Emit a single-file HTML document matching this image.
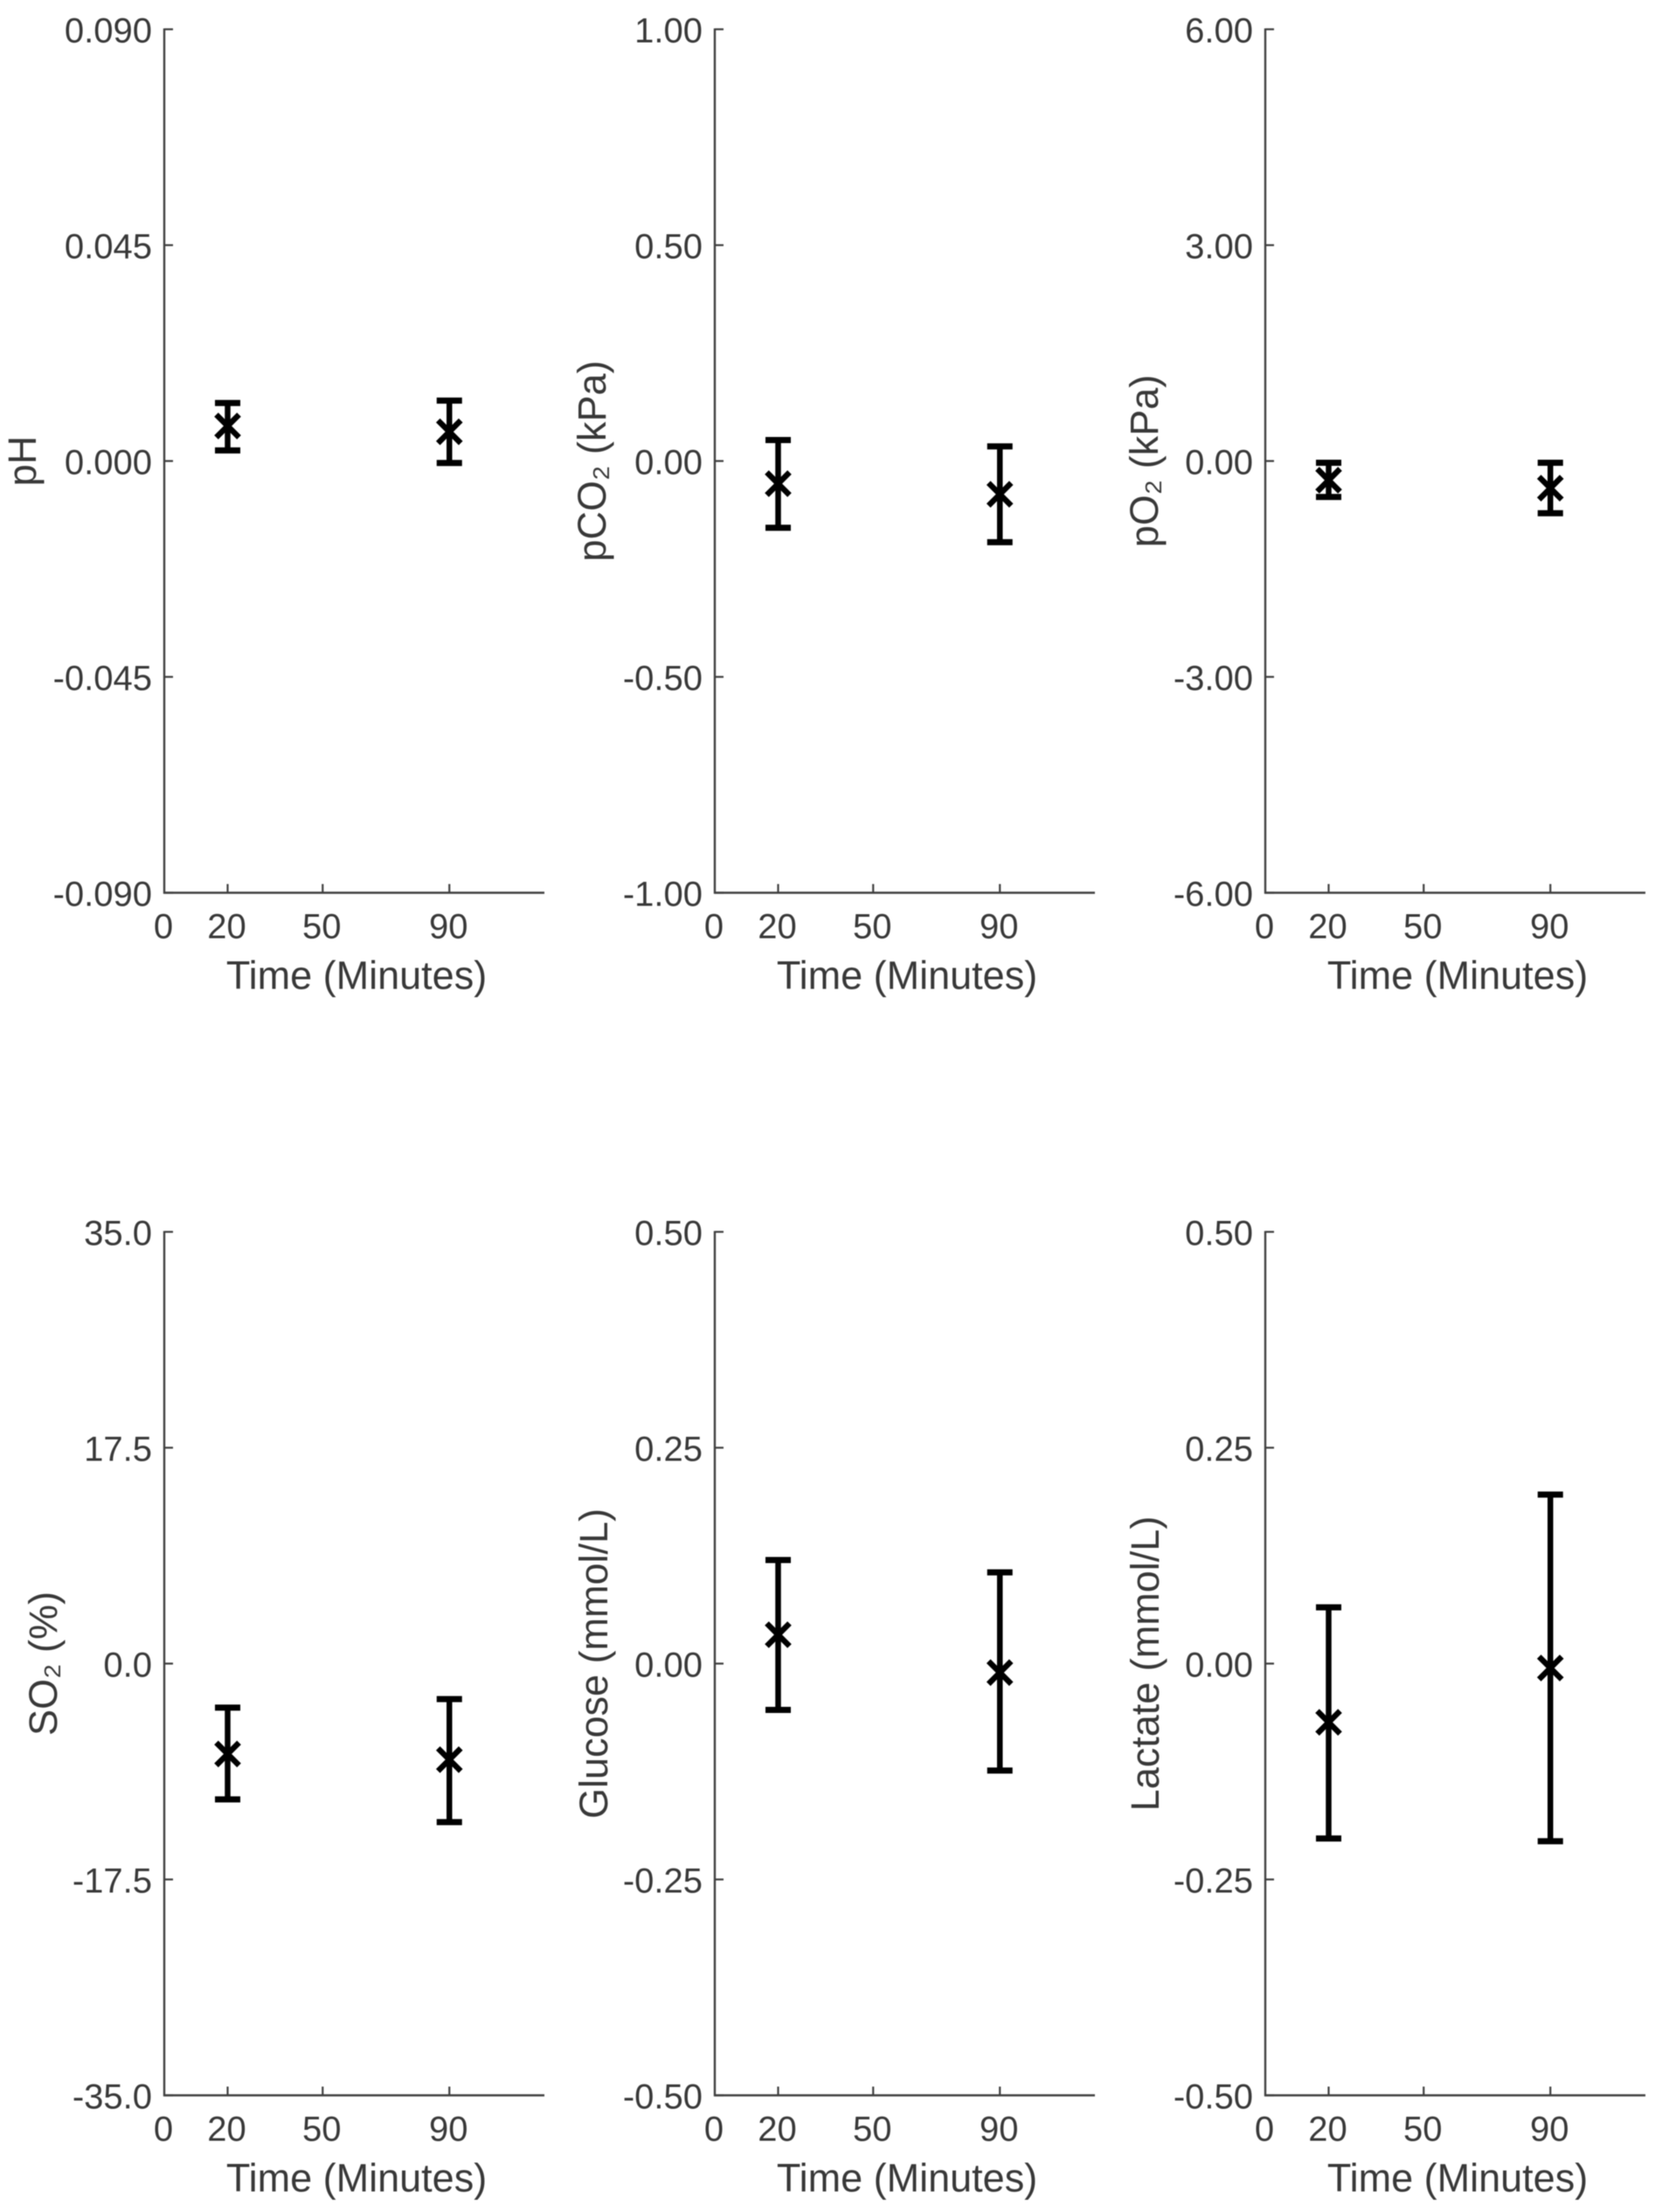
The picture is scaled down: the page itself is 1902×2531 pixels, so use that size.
<!DOCTYPE html>
<html lang="en">
<head>
<meta charset="utf-8">
<title>Blood gas changes over time</title>
<style>
  html, body { margin: 0; padding: 0; background: #fff; }
  #chart { display: block; width: 1902px; height: 2531px; filter: blur(0.6px); }
  text { font-family: "Liberation Sans", Arial, sans-serif; fill: #383838; }
</style>
</head>
<body>
<svg id="chart" xmlns="http://www.w3.org/2000/svg" width="1902" height="2531" viewBox="0 0 1902 2531"></svg>
<script>
// ---- Data ----
const timeCategories = [20, 90];
const xTickValues = [0, 20, 50, 90];
const xMaximum = 120;

const phMeans = [0.0073, 0.0061];
const phLower = [0.0022, -0.0004];
const phUpper = [0.0121, 0.0126];
const phTicks = ['0.090', '0.045', '0.000', '-0.045', '-0.090'];

const pco2Means = [-0.0526, -0.077];
const pco2Lower = [-0.1545, -0.188];
const pco2Upper = [0.0486, 0.0338];
const pco2Ticks = ['1.00', '0.50', '0.00', '-0.50', '-1.00'];

const po2Means = [-0.267, -0.377];
const po2Lower = [-0.5, -0.725];
const po2Upper = [-0.024, -0.024];
const po2Ticks = ['6.00', '3.00', '0.00', '-3.00', '-6.00'];

const so2Means = [-7.33, -7.79];
const so2Lower = [-11.01, -12.85];
const so2Upper = [-3.57, -2.88];
const so2Ticks = ['35.0', '17.5', '0.0', '-17.5', '-35.0'];

const glucoseMeans = [0.0334, -0.0104];
const glucoseLower = [-0.0536, -0.1238];
const glucoseUpper = [0.12, 0.1056];
const glucoseTicks = ['0.50', '0.25', '0.00', '-0.25', '-0.50'];

const lactateMeans = [-0.068, -0.0051];
const lactateLower = [-0.2026, -0.2057];
const lactateUpper = [0.0652, 0.1957];
const lactateTicks = ['0.50', '0.25', '0.00', '-0.25', '-0.50'];

// ---- Layout ----
const NS = 'http://www.w3.org/2000/svg';
const chart = document.getElementById('chart');
const plotWidth = 435;
const plotHeight = 988;
const INK = '#000000';
const AXIS = '#404040';

function make(tag, parent) {
  const el = document.createElementNS(NS, tag);
  parent.appendChild(el);
  return el;
}
function segment(parent, x1, y1, x2, y2, color, width) {
  const el = make('line', parent);
  el.setAttribute('x1', x1);
  el.setAttribute('y1', y1);
  el.setAttribute('x2', x2);
  el.setAttribute('y2', y2);
  el.setAttribute('stroke', color);
  el.setAttribute('stroke-width', width);
  return el;
}
function label(parent, x, y, content, size, anchor) {
  const el = make('text', parent);
  el.setAttribute('x', x);
  el.setAttribute('y', y);
  el.setAttribute('font-size', size);
  el.setAttribute('text-anchor', anchor);
  el.textContent = content;
  return el;
}

function drawPanel(key, title, ticks, means, lower, upper, left, top, titleX) {
  const bottom = top + plotHeight;
  const yMax = parseFloat(ticks[0]);
  const xScale = v => left + (v / xMaximum) * plotWidth;
  const yScale = v => top + ((yMax - v) / (2 * yMax)) * plotHeight;

  const panel = make('g', chart);
  
  

  // Y axis with inward ticks
  const yAxis = segment(panel, left, top - 1, left, bottom + 1, AXIS, 2.4);
  
  
  ticks.forEach(t => {
    const y = yScale(parseFloat(t));
    const mark = segment(panel, left, y, left + 10, y, AXIS, 2.2);
    
    
    const text = label(panel, left - 14, y + 15, t, 40, 'end');
    
    
  });

  // X axis with inward ticks
  const xAxis = segment(panel, left - 1, bottom, left + plotWidth, bottom, AXIS, 2.4);
  
  
  xTickValues.forEach(v => {
    const x = xScale(v);
    if (v !== 0) {
      const mark = segment(panel, x, bottom, x, bottom - 10, AXIS, 2.2);
      
      
    }
    const text = label(panel, x - 1, bottom + 52, String(v), 40, 'middle');
    
    
  });

  // Axis titles
  const xTitle = label(panel, left + 220, bottom + 110, 'Time (Minutes)', 45, 'middle');
  
  

  const midY = top + plotHeight / 2;
  const yTitle = label(panel, 0, 0, title, 45, 'middle');
  yTitle.setAttribute('transform', 'translate(' + titleX + ' ' + midY + ') rotate(-90)');
  
  

  // Error bars and mean markers
  timeCategories.forEach((time, i) => {
    const x = xScale(time);
    const yHigh = yScale(upper[i]);
    const yLow = yScale(lower[i]);
    const yMean = yScale(means[i]);

    const group = make('g', panel);
    
    

    const stem = segment(group, x, yHigh, x, yLow, INK, 6.5);
    
    
    const capTop = segment(group, x - 14.5, yHigh, x + 14.5, yHigh, INK, 7);
    
    
    const capBottom = segment(group, x - 14.5, yLow, x + 14.5, yLow, INK, 7);
    
    

    const marker = make('path', group);
    const d = 13;
    marker.setAttribute('d', 'M' + (x - d) + ' ' + (yMean - d) + 'L' + (x + d) + ' ' + (yMean + d) +
      'M' + (x - d) + ' ' + (yMean + d) + 'L' + (x + d) + ' ' + (yMean - d));
    marker.setAttribute('stroke', INK);
    marker.setAttribute('stroke-width', 6.5);
    marker.setAttribute('fill', 'none');
    
    
  });
}

drawPanel('ph', 'pH', phTicks, phMeans, phLower, phUpper, 188, 33.5, 41);
drawPanel('pco2', 'pCO\u2082 (kPa)', pco2Ticks, pco2Means, pco2Lower, pco2Upper, 818, 33.5, 693);
drawPanel('po2', 'pO\u2082 (kPa)', po2Ticks, po2Means, po2Lower, po2Upper, 1448, 33.5, 1325);
drawPanel('so2', 'SO\u2082 (%)', so2Ticks, so2Means, so2Lower, so2Upper, 188, 1409.5, 65);
drawPanel('glucose', 'Glucose (mmol/L)', glucoseTicks, glucoseMeans, glucoseLower, glucoseUpper, 818, 1409.5, 695);
drawPanel('lactate', 'Lactate (mmol/L)', lactateTicks, lactateMeans, lactateLower, lactateUpper, 1448, 1409.5, 1326);
</script>
</body>
</html>
